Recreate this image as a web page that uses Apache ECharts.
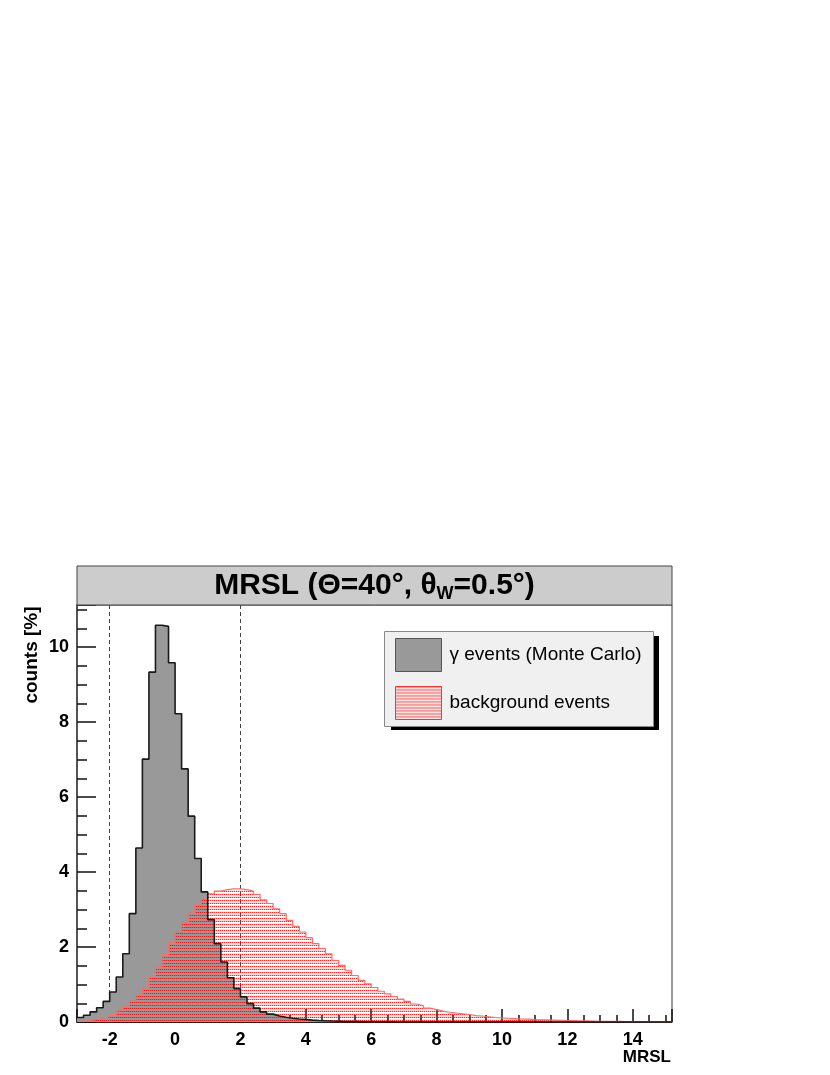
<!DOCTYPE html>
<html>
<head>
<meta charset="utf-8">
<title>MRSL</title>
<script src="https://cdn.jsdelivr.net/npm/echarts@6/dist/echarts.min.js"></script>
<style>
html, body { margin: 0; padding: 0; background: #fff; }
#main { width: 830px; height: 1075px; }
</style>
</head>
<body>
<div id="main"></div>
<script>
// histogram binning: 91 bins of 0.2 starting at -3
var binLow = -3;
var binWidth = 0.2;

// gamma events (Monte Carlo), counts [%] per bin
var gammaCounts = [
  0.12, 0.18, 0.27, 0.38, 0.55, 0.80, 1.20, 1.82, 2.89, 4.64,
  7.01, 9.33, 10.58, 10.55, 9.58, 8.22, 6.75, 5.49, 4.36, 3.47,
  2.73, 2.09, 1.60, 1.18, 0.89, 0.67, 0.49, 0.37, 0.27, 0.21,
  0.16, 0.125, 0.10, 0.08, 0.065, 0.05, 0.04, 0.032, 0.025, 0.02,
  0.015, 0.012, 0.01, 0.008, 0.006, 0.005, 0.004, 0.003, 0.002, 0.002,
  0.001, 0.001, 0, 0, 0, 0, 0, 0, 0, 0,
  0, 0, 0, 0, 0, 0, 0, 0, 0, 0,
  0, 0, 0, 0, 0, 0, 0, 0, 0, 0,
  0, 0, 0, 0, 0, 0, 0, 0, 0, 0,
  0
];

// background events, counts [%] per bin
var bgCounts = [
  0.02, 0.04, 0.07, 0.10, 0.14, 0.20, 0.30, 0.42, 0.55, 0.71,
  0.91, 1.20, 1.48, 1.80, 2.12, 2.42, 2.66, 2.90, 3.12, 3.28,
  3.42, 3.49, 3.53, 3.55, 3.55, 3.53, 3.49, 3.40, 3.26, 3.16,
  3.02, 2.89, 2.71, 2.55, 2.40, 2.25, 2.09, 1.96, 1.82, 1.64,
  1.51, 1.38, 1.24, 1.11, 1.02, 0.92, 0.82, 0.75, 0.68, 0.61,
  0.55, 0.48, 0.43, 0.37, 0.33, 0.29, 0.26, 0.24, 0.22, 0.20,
  0.17, 0.16, 0.14, 0.12, 0.11, 0.10, 0.09, 0.08, 0.075, 0.065,
  0.06, 0.055, 0.05, 0.045, 0.04, 0.035, 0.03, 0.03, 0.025, 0.02,
  0.02, 0.018, 0.015, 0.012, 0.01, 0.01, 0.008, 0.006, 0.005, 0.004,
  0.003
];

var cutValues = [-2, 2];
var seriesNames = ['\u03b3 events (Monte Carlo)', 'background events'];

var font = '"Liberation Sans", Arial, Helvetica, sans-serif';

// bin edges -> points for a step line
function stepData(counts) {
  var d = [];
  for (var i = 0; i < counts.length; i++) {
    d.push([+(binLow + i * binWidth).toFixed(2), counts[i]]);
  }
  d.push([+(binLow + counts.length * binWidth).toFixed(2), counts[counts.length - 1]]);
  return d;
}

// red dotted fill like root's fill style 3001
function dotPattern() {
  var c = document.createElement('canvas');
  c.width = 2; c.height = 3;
  var ctx = c.getContext('2d');
  ctx.fillStyle = 'rgba(255,0,0,0.85)';
  ctx.fillRect(0, 0, 1, 1);
  ctx.fillStyle = 'rgba(255,30,30,0.4)';
  ctx.fillRect(1, 0, 1, 1);
  ctx.fillStyle = 'rgba(255,90,90,0.12)';
  ctx.fillRect(0, 2, 2, 1);
  return c;
}
var redFill = { image: dotPattern(), repeat: 'repeat' };

var chart = echarts.init(document.getElementById('main'));
var option = {
  animation: false,
  backgroundColor: '#fff',
  grid: {
    left: 77, right: 158, top: 605, bottom: 53,
    show: true, borderColor: '#333', borderWidth: 1
  },
  legend: {
    orient: 'vertical',
    left: 390, top: 633,
    itemWidth: 46, itemHeight: 33, itemGap: 14,
    z: 6,
    textStyle: { fontFamily: font, fontSize: 19, color: '#000', padding: [0, 0, 0, 3] },
    data: [
      { name: seriesNames[0], icon: 'rect', itemStyle: { color: '#999', borderColor: '#555', borderWidth: 1 } },
      { name: seriesNames[1], icon: 'rect', itemStyle: { color: redFill, borderColor: '#ff3030', borderWidth: 1 } }
    ]
  },
  xAxis: {
    type: 'value',
    min: -3, max: 15.2,
    splitNumber: 9, minInterval: 2, maxInterval: 2,
    splitLine: { show: false },
    axisLine: { show: true, onZero: false, lineStyle: { color: '#222', width: 1 } },
    axisTick: { inside: true, length: 13, lineStyle: { color: '#111', width: 1.5 } },
    minorTick: { show: true, splitNumber: 4, length: 7, lineStyle: { color: '#111', width: 1.5 } },
    axisLabel: {
      showMinLabel: false, showMaxLabel: false,
      fontFamily: font, fontWeight: 'bold', fontSize: 18, color: '#000', margin: 9
    }
  },
  yAxis: {
    type: 'value',
    min: 0, max: 11.12, interval: 2,
    splitLine: { show: false },
    axisLine: { show: true, onZero: false, lineStyle: { color: '#555', width: 2 } },
    axisTick: { inside: true, length: 19, lineStyle: { color: '#111', width: 1.5 } },
    minorTick: { show: true, splitNumber: 4, length: 10, lineStyle: { color: '#111', width: 1.5 } },
    axisLabel: {
      showMaxLabel: false,
      fontFamily: font, fontWeight: 'bold', fontSize: 18, color: '#000', margin: 8
    }
  },
  series: [
    {
      name: seriesNames[0],
      type: 'line', step: 'end',
      data: stepData(gammaCounts),
      symbol: 'none', color: '#999',
      lineStyle: { width: 0 },
      areaStyle: { color: '#999', opacity: 1 },
      z: 2,
      markLine: {
        silent: true, symbol: 'none', z: 1,
        label: { show: false },
        lineStyle: { type: [4, 3], color: '#444', width: 1 },
        data: cutValues.map(function (v) { return { xAxis: v }; })
      }
    },
    {
      name: seriesNames[1],
      type: 'line', step: 'end',
      data: stepData(bgCounts),
      symbol: 'none', color: '#ff3030',
      lineStyle: { color: '#ff6a6a', width: 1.2 },
      areaStyle: { color: redFill, opacity: 1 },
      z: 3
    },
    {
      name: 'gamma outline',
      type: 'line', step: 'end',
      data: stepData(gammaCounts),
      symbol: 'none',
      lineStyle: { color: '#1a1a1a', width: 1.6 },
      z: 4
    }
  ],
  graphic: [
    { type: 'rect', z: 1, shape: { x: 77, y: 566, width: 595, height: 39 },
      style: { fill: '#cccccc', stroke: '#444', lineWidth: 1 } },
    { type: 'text', z: 2, x: 374.5, y: 586,
      style: {
        text: '{b|MRSL (\u0398=40\u00b0, \u03b8}{s|W}{b|=0.5\u00b0)}',
        align: 'center', verticalAlign: 'middle',
        textAlign: 'center', textVerticalAlign: 'middle',
        rich: {
          b: { fontFamily: font, fontSize: 30, fontWeight: 'bold', fill: '#000', lineHeight: 34 },
          s: { fontFamily: font, fontSize: 18, fontWeight: 'bold', fill: '#000', lineHeight: 18, verticalAlign: 'bottom' }
        }
      } },
    { type: 'rect', z: 4, shape: { x: 391, y: 636, width: 268, height: 94 },
      style: { fill: '#000' } },
    { type: 'rect', z: 5, shape: { x: 384.5, y: 631.5, width: 269, height: 95 },
      style: { fill: '#f0f0f0', stroke: '#888', lineWidth: 1 } },
    { type: 'text', z: 5, x: 32, y: 655, rotation: Math.PI / 2,
      style: { text: 'counts [%]', fontFamily: font, fontSize: 19, fontWeight: 'bold', fill: '#000',
        align: 'center', verticalAlign: 'middle', textAlign: 'center', textVerticalAlign: 'middle' } },
    { type: 'text', z: 5, x: 671, y: 1057,
      style: { text: 'MRSL', fontFamily: font, fontSize: 17, fontWeight: 'bold', fill: '#000',
        align: 'right', verticalAlign: 'middle', textAlign: 'right', textVerticalAlign: 'middle' } }
  ]
};
chart.setOption(option);
</script>
</body>
</html>
